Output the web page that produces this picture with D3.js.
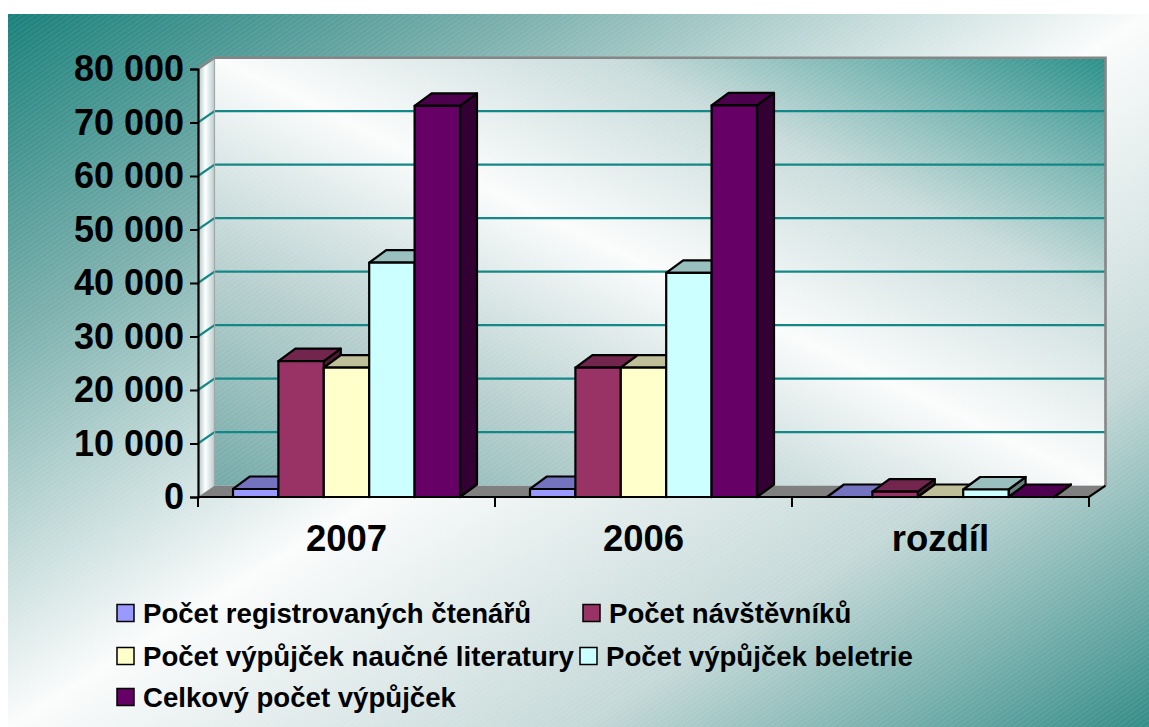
<!DOCTYPE html>
<html><head><meta charset="utf-8">
<script src="https://cdn.jsdelivr.net/npm/d3@7"></script>
<style>
body{margin:0;background:#fff}
svg{display:block}
text{font-family:"Liberation Sans",Arial,Helvetica,sans-serif;font-weight:bold;fill:#000}
</style>
</head><body>
<svg id="c" width="1149" height="727"></svg>
<script>
// ---- data ----
const categories = ["2007", "2006", "rozdíl"];
const seriesNames = ["Počet registrovaných čtenářů", "Počet návštěvníků", "Počet výpůjček naučné literatury", "Počet výpůjček beletrie", "Celkový počet výpůjček"];
const seriesColors = ["#9999FF", "#993366", "#FFFFCC", "#CCFFFF", "#660066"];
const registrovani = [1500, 1500, 0];
const navstevnici = [25400, 24200, 1000];
const naucna = [24200, 24200, 0];
const beletrie = [43800, 41900, 1400];
const celkem = [73100, 73200, 0];
const yTicks = [0, 10000, 20000, 30000, 40000, 50000, 60000, 70000, 80000];

const seriesValues = [registrovani, navstevnici, naucna, beletrie, celkem];

// ---- layout ----
const svg = d3.select("#c");
const X0 = 198, X1 = 1089, Y0 = 497, Y80 = 69;
const DX = 16.5, DY = -11.3;     // wall depth
const BDX = 17, BDY = -12.5;     // bar depth

const x0 = d3.scaleBand().domain(categories).range([X0, X1]).padding(0);
const x1 = d3.scaleBand().domain(seriesNames).range([35, x0.bandwidth() - 35]).padding(0);
const y = d3.scaleLinear().domain([0, 80000]).range([Y0, Y80]);

const loc = d3.formatLocale({decimal: ",", thousands: " ", grouping: [3], currency: ["", ""]});
const fmt = loc.format(",");

const defs = svg.append("defs");
const outerG = defs.append("linearGradient").attr("id", "outerG")
  .attr("x1", 0).attr("y1", 0).attr("x2", 1).attr("y2", 1);
[[0, "#1b817b"], [0.22, "#7aafac"], [0.5, "#fbfcfc"], [0.75, "#c5d9d8"], [1, "#358d88"]]
  .forEach(s => outerG.append("stop").attr("offset", s[0]).attr("stop-color", s[1]));
const wallG = defs.append("linearGradient").attr("id", "wallG")
  .attr("x1", 0).attr("y1", 1).attr("x2", 1).attr("y2", 0);
[[0, "#74aaa8"], [0.25, "#b6cfce"], [0.5, "#fbfcfc"], [0.72, "#c9dcdb"], [1, "#2b908a"]]
  .forEach(s => wallG.append("stop").attr("offset", s[0]).attr("stop-color", s[1]));
const sideG = defs.append("linearGradient").attr("id", "sideG")
  .attr("x1", 0).attr("y1", 0).attr("x2", 1).attr("y2", 0);
[[0, "#aac4c4"], [0.45, "#ffffff"], [1, "#b8cccc"]]
  .forEach(s => sideG.append("stop").attr("offset", s[0]).attr("stop-color", s[1]));
const pat = defs.append("pattern").attr("id", "hatch").attr("patternUnits", "userSpaceOnUse")
  .attr("width", 4).attr("height", 4).attr("patternTransform", "rotate(-35)");
pat.append("line").attr("x1", 0).attr("y1", 0).attr("x2", 4).attr("y2", 0)
  .attr("stroke", "#ffffff").attr("stroke-width", 1.2).attr("stroke-opacity", 0.13);

// outer background
svg.append("rect").attr("x", 8).attr("y", 14).attr("width", 1141).attr("height", 713).attr("fill", "url(#outerG)");
svg.append("rect").attr("x", 8).attr("y", 14).attr("width", 1141).attr("height", 713).attr("fill", "url(#hatch)");

// back wall
const bw = {x: X0 + DX, y: Y80 + DY, w: X1 - X0, h: Y0 - Y80};
svg.append("rect").attr("x", bw.x).attr("y", bw.y).attr("width", bw.w).attr("height", bw.h).attr("fill", "url(#wallG)");
svg.append("rect").attr("x", bw.x).attr("y", bw.y).attr("width", bw.w).attr("height", bw.h).attr("fill", "url(#hatch)");

// side wall
svg.append("polygon")
  .attr("points", [[X0, Y80], [X0 + DX, Y80 + DY], [X0 + DX, Y0 + DY], [X0, Y0]].map(p => p.join(",")).join(" "))
  .attr("fill", "url(#sideG)");

// gridlines
const grid = yTicks.filter(t => t > 0 && t < 80000);
svg.append("g").selectAll("line.g").data(grid).join("line")
  .attr("x1", X0 + DX).attr("x2", X1 + DX)
  .attr("y1", d => y(d) + DY).attr("y2", d => y(d) + DY)
  .attr("stroke", "#138886").attr("stroke-width", 2.2);
svg.append("g").selectAll("line.d").data(grid).join("line")
  .attr("x1", X0).attr("x2", X0 + DX)
  .attr("y1", d => y(d)).attr("y2", d => y(d) + DY)
  .attr("stroke", "#138886").attr("stroke-width", 2.2);

// wall borders
svg.append("line").attr("x1", X0 + DX).attr("x2", X0 + DX).attr("y1", Y80 + DY).attr("y2", Y0 + DY)
  .attr("stroke", "#a0a8a8").attr("stroke-width", 1.2);
svg.append("polyline")
  .attr("points", [[X0, Y80], [X0 + DX, Y80 + DY], [X1 + DX, Y80 + DY], [X1 + DX, Y0 + DY]].map(p => p.join(",")).join(" "))
  .attr("fill", "none").attr("stroke", "#868686").attr("stroke-width", 2.6);

// floor
svg.append("polygon")
  .attr("points", [[X0, Y0], [X1, Y0], [X1 + DX, Y0 + DY], [X0 + DX, Y0 + DY]].map(p => p.join(",")).join(" "))
  .attr("fill", "#808080");
svg.append("polyline")
  .attr("points", [[X0, Y0], [X1, Y0], [X1 + DX, Y0 + DY]].map(p => p.join(",")).join(" "))
  .attr("fill", "none").attr("stroke", "#000").attr("stroke-width", 2.2);

// bars
function shade(c, k) { const r = d3.rgb(c); return d3.rgb(r.r * k, r.g * k, r.b * k).formatHex(); }
const barsG = svg.append("g");
categories.forEach((cat, ci) => {
  seriesNames.forEach((name, si) => {
    const v = seriesValues[si][ci];
    const col = seriesColors[si];
    const x = x0(cat) + x1(name), w = x1.bandwidth();
    const yt = y(v), yb = y(0);
    const g = barsG.append("g").attr("stroke", "#000").attr("stroke-width", 2.2).attr("stroke-linejoin", "round");
    g.append("polygon")
      .attr("points", [[x + w, yt], [x + w + BDX, yt + BDY], [x + w + BDX, yb + BDY], [x + w, yb]].map(p => p.join(",")).join(" "))
      .attr("fill", shade(col, 0.5));
    g.append("polygon")
      .attr("points", [[x, yt], [x + BDX, yt + BDY], [x + w + BDX, yt + BDY], [x + w, yt]].map(p => p.join(",")).join(" "))
      .attr("fill", shade(col, 0.75));
    if (yb - yt > 0.5) {
      g.append("rect").attr("x", x).attr("y", yt).attr("width", w).attr("height", yb - yt).attr("fill", col);
    }
  });
});

// y axis
const yAxis = svg.append("g").attr("transform", `translate(${X0},0)`)
  .call(d3.axisLeft(y).tickValues(yTicks).tickSize(8).tickPadding(6).tickFormat(fmt));
yAxis.select(".domain").attr("stroke", "#000").attr("stroke-width", 2.2);
yAxis.selectAll(".tick line").attr("stroke", "#000").attr("stroke-width", 2);
yAxis.selectAll(".tick text").style("font-size", "36px").style("font-family", "'Liberation Sans',Arial,sans-serif").style("font-weight", "bold").attr("fill", "#000");

// x axis: boundary ticks + centered labels
const bounds = categories.map(c => x0(c)).concat([X1]);
svg.append("g").selectAll("line").data(bounds).join("line")
  .attr("x1", d => d).attr("x2", d => d).attr("y1", Y0).attr("y2", Y0 + 10)
  .attr("stroke", "#000").attr("stroke-width", 2);
svg.append("g").selectAll("text").data(categories).join("text")
  .attr("x", d => x0(d) + x0.bandwidth() / 2).attr("y", 551)
  .attr("text-anchor", "middle").style("font-size", "36.5px").text(d => d);

// legend
const legendPos = [[117, 613], [583, 613], [117, 656], [580, 656], [117, 697]];
const lg = svg.append("g");
seriesNames.forEach((name, i) => {
  const [lx, ly] = legendPos[i];
  lg.append("rect").attr("x", lx).attr("y", ly - 8.5).attr("width", 17).attr("height", 17)
    .attr("fill", seriesColors[i]).attr("stroke", "#000").attr("stroke-width", 1.5);
  lg.append("text").attr("x", lx + 26).attr("y", ly + 9.8).style("font-size", "27.6px").text(name);
});
</script>
</body></html>
